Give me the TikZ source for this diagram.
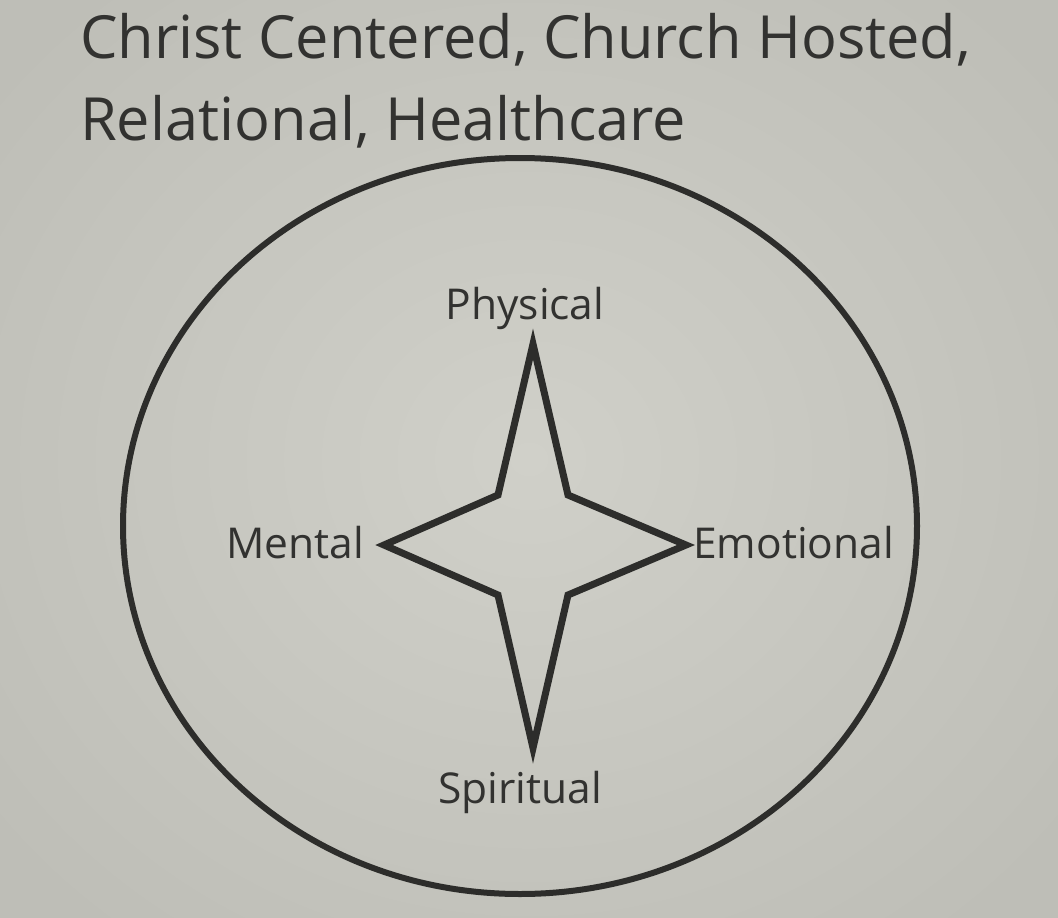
\documentclass[tikz,border=0pt]{standalone}
\usepackage{fontspec}
\setmainfont{Open Sans}
\definecolor{bgin}{RGB}{208,208,201}
\definecolor{bgout}{RGB}{190,190,183}
\definecolor{ink}{RGB}{45,45,43}
\definecolor{txt}{RGB}{50,50,48}
\tikzset{
  titletext/.style={anchor=base west, inner sep=0pt, text=txt, font=\fontsize{59.5}{60}\selectfont},
  label/.style={anchor=base, inner sep=0pt, text=txt, font=\fontsize{42.5}{42}\selectfont},
  outline/.style={draw=ink, line width=6pt, line join=miter},
}
\begin{document}
\begin{tikzpicture}[x=1pt,y=-1pt]
\useasboundingbox (0,0) rectangle (1058,918);
\shade[inner color=bgin, outer color=bgout] (-150,-150) rectangle (1208,1068);
\node[titletext] (t1) at (80,58) {Christ Centered, Church Hosted,};
\node[titletext] (t2) at (80,140) {Relational, Healthcare};
\draw[outline] (520,526) ellipse [x radius=397, y radius=368];
\draw[outline, line width=7pt, miter limit=20] (533,344) -- (568,495) -- (686,545) -- (568,595) -- (533,748) -- (498,595) -- (384,545) -- (498,495) -- cycle;
\node[label] (phys) at (525,319) {Physical};
\node[label, anchor=base west] (ment) at (226,558) {Mental};
\node[label, anchor=base west] (emo) at (693,558) {Emotional};
\node[label] (spir) at (520,803) {Spiritual};
\end{tikzpicture}
\end{document}
